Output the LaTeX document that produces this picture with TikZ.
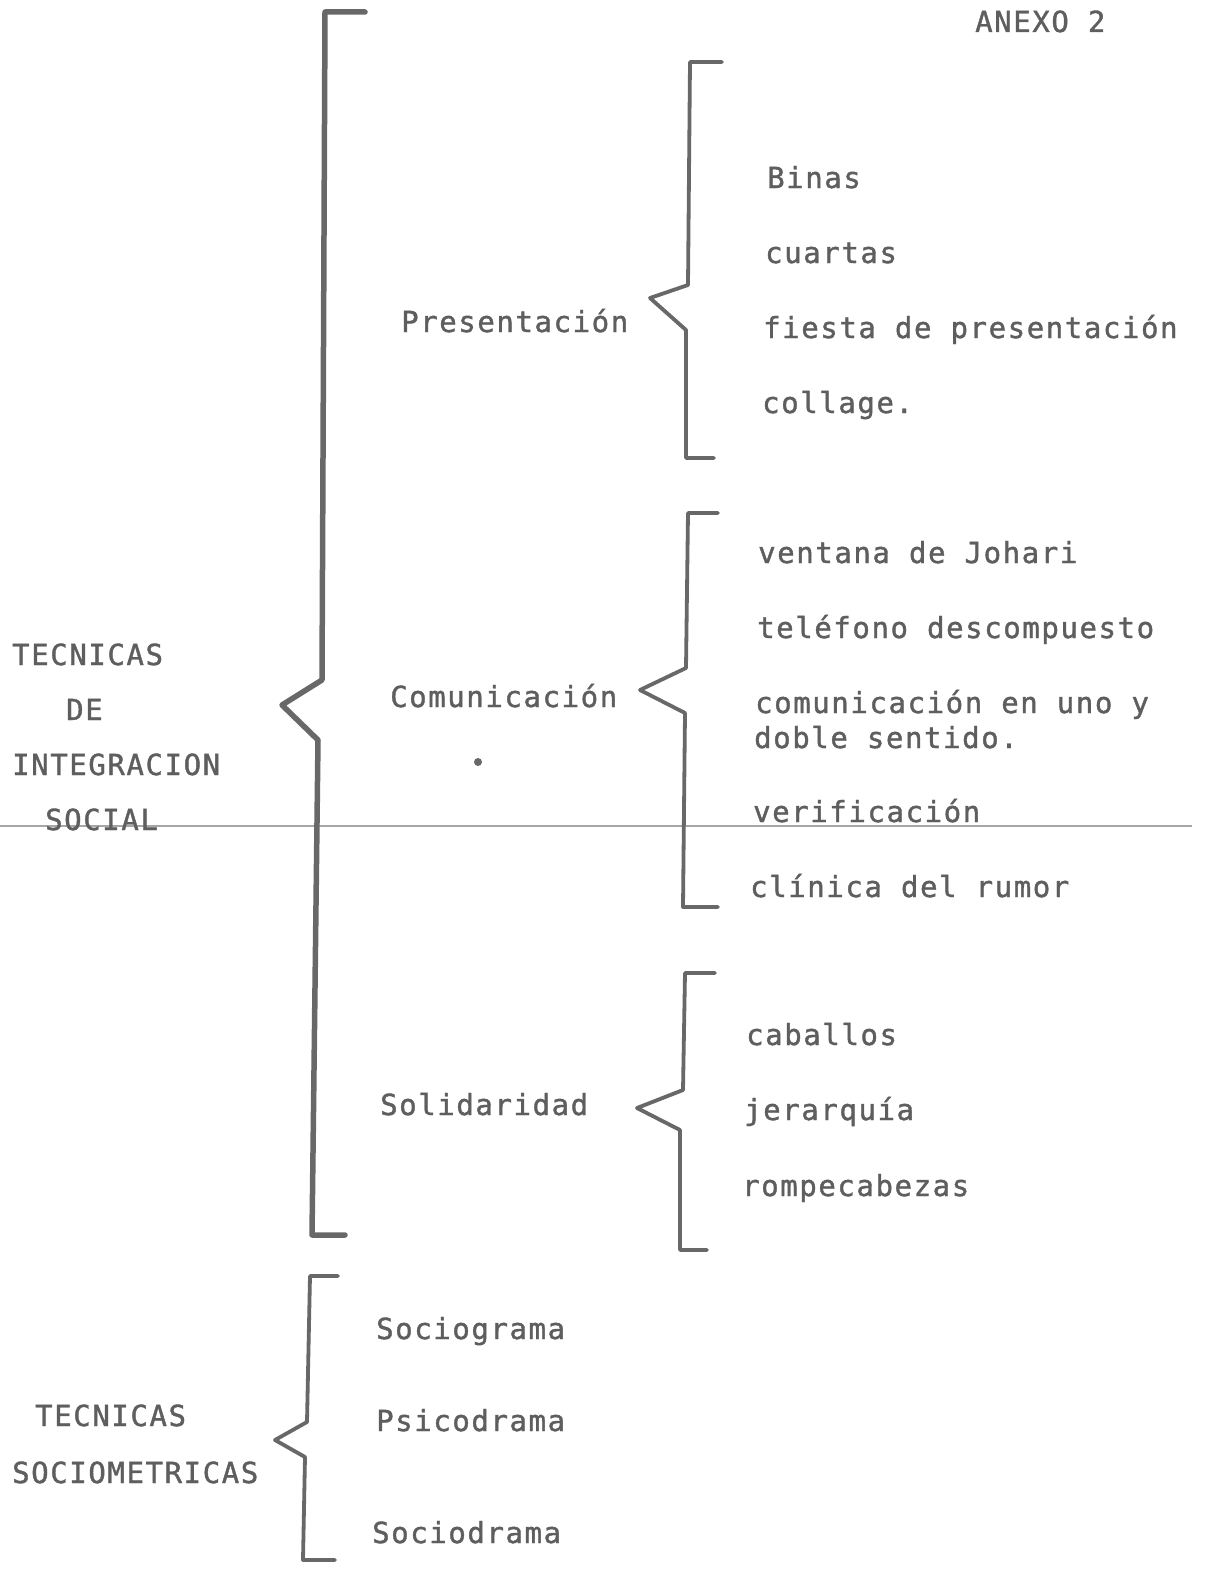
\documentclass[tikz,border=0pt]{standalone}
\usepackage{fontspec}
\newfontfamily\twfont[LetterSpace=5.5,FakeBold=1.3]{DejaVu Sans Mono}
\definecolor{ink}{HTML}{5E5E5E}
\definecolor{ink2}{HTML}{686868}
\begin{document}
\begin{tikzpicture}[x=1pt,y=-1pt,
  txt/.style={anchor=base west, inner sep=0pt, text=ink, font=\twfont\fontsize{29}{32}\selectfont},
  bigbrace/.style={draw=ink2, line width=5.5pt, line join=round, line cap=round},
  brace/.style={draw=ink2, line width=3.8pt, line join=round, line cap=round}]
\useasboundingbox (0,0) rectangle (1205,1587);
\fill[white] (0,0) rectangle (1205,1587);

% scan fold line
\draw[black!35, line width=1.2pt] (0,826) -- (1192,826);

% header
\node[txt] (anexo) at (975,32) {ANEXO 2};

% left titles
\node[txt] (t1) at (12,665) {TECNICAS};
\node[txt] (t2) at (66,720) {DE};
\node[txt] (t3) at (12,775) {INTEGRACION};
\node[txt] (t4) at (45,830) {SOCIAL};

% big brace
\draw[bigbrace] (365,12) -- (325,12) -- (322,680) -- (282,705) -- (318,740) -- (312,1235) -- (345,1235);

% Presentacion
\node[txt] (pres) at (401,332) {Presentación};
\draw[brace] (722,62) -- (690,62) -- (688,285) -- (650,298) -- (686,330) -- (686,458) -- (714,458);
\node[txt] (p1) at (767,188) {Binas};
\node[txt] (p2) at (765,263) {cuartas};
\node[txt] (p3) at (763,338) {fiesta de presentación};
\node[txt] (p4) at (762,413) {collage.};

% Comunicacion
\node[txt] (com) at (390,707) {Comunicación};
\fill[ink2] (478,762) circle (4);
\draw[brace] (718,513) -- (688,513) -- (686,668) -- (640,690) -- (685,713) -- (683,907) -- (718,907);
\node[txt] (c1) at (758,563) {ventana de Johari};
\node[txt] (c2) at (757,638) {teléfono descompuesto};
\node[txt] (c3) at (755,713) {comunicación en uno y};
\node[txt] (c4) at (754,748) {doble sentido.};
\node[txt] (c5) at (753,822) {verificación};
\node[txt] (c6) at (750,897) {clínica del rumor};

% Solidaridad
\node[txt] (sol) at (380,1115) {Solidaridad};
\draw[brace] (715,973) -- (685,973) -- (683,1090) -- (637,1108) -- (680,1130) -- (680,1250) -- (707,1250);
\node[txt] (s1) at (746,1045) {caballos};
\node[txt] (s2) at (744,1120) {jerarquía};
\node[txt] (s3) at (742,1196) {rompecabezas};

% Sociometricas
\node[txt] (m1) at (35,1426) {TECNICAS};
\node[txt] (m2) at (12,1483) {SOCIOMETRICAS};
\draw[brace] (338,1276) -- (310,1276) -- (307,1422) -- (275,1440) -- (305,1457) -- (303,1560) -- (335,1560);
\node[txt] (q1) at (376,1339) {Sociograma};
\node[txt] (q2) at (376,1431) {Psicodrama};
\node[txt] (q3) at (372,1543) {Sociodrama};
\end{tikzpicture}
\end{document}
